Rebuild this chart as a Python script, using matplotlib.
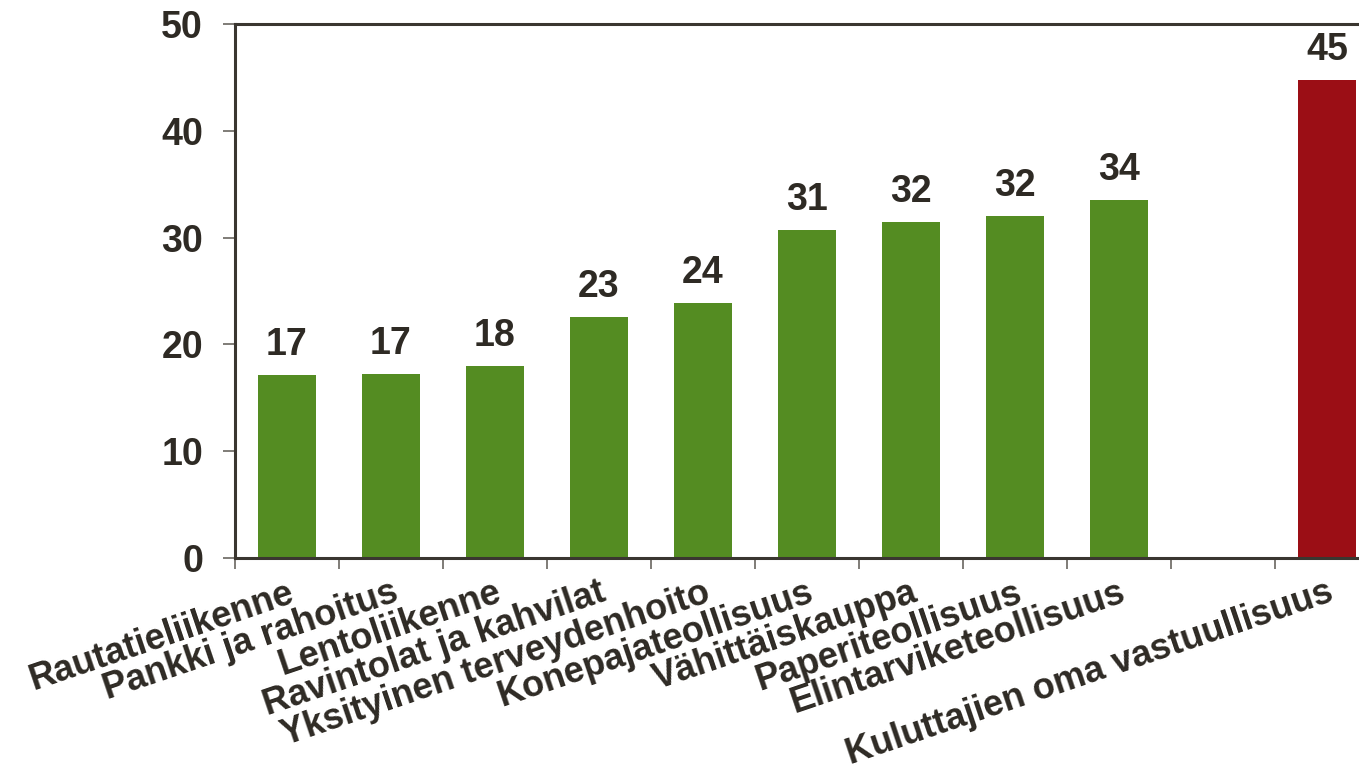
import matplotlib
matplotlib.use("Agg")
import matplotlib.pyplot as plt
import numpy as np

categories = ["Rautatieliikenne", "Pankki ja rahoitus", "Lentoliikenne",
              "Ravintolat ja kahvilat", "Yksityinen terveydenhoito",
              "Konepajateollisuus", "Vähittäiskauppa", "Paperiteollisuus",
              "Elintarviketeollisuus", "", "Kuluttajien oma vastuullisuus"]
values = [17.1, 17.2, 18.0, 22.6, 23.9, 30.7, 31.5, 32.0, 33.5, np.nan, 44.8]
labels = ["17", "17", "18", "23", "24", "31", "32", "32", "34", "", "45"]
colors = ["#548C22"] * 9 + ["#548C22", "#9B0E15"]
yticks = [0, 10, 20, 30, 40, 50]

TXT = "#2E2A24"
AX = "#3A3630"
plt.rcParams['font.family'] = ['Liberation Sans', 'DejaVu Sans']

fig = plt.figure(figsize=(13.59, 7.77), dpi=100)
ax = fig.add_axes([235/1359, (777-558)/777, 1144/1359, 534/777])

x = np.arange(len(categories)) + 0.5
ax.bar(x, values, width=0.56, color=colors, zorder=2)
for xi, v, lab in zip(x, values, labels):
    if lab:
        ax.annotate(lab, (xi, v), xytext=(0, 14.4), textcoords="offset points",
                    ha="center", va="baseline", fontsize=27, fontweight="bold", color=TXT)

ax.set_xlim(0, len(categories))
ax.set_ylim(0, 50)
ax.set_yticks(yticks)
ax.set_yticklabels([str(t) for t in yticks], fontsize=27, fontweight="bold", color=TXT)
ax.tick_params(axis="y", length=9, width=1.2, color="#6A6660", pad=14)

ax.set_xticks(np.arange(len(categories) + 1))
ax.set_xticklabels([])
ax.tick_params(axis="x", length=8, width=1.2, color="#6A6660", direction="out")
for xi, cat in zip(x, categories):
    if cat:
        ax.text(xi + 0.0, -1.6, cat, rotation=18.7, rotation_mode="anchor",
                ha="right", va="top", fontsize=26, fontweight="bold", color=TXT,
                transform=ax.transData, clip_on=False)

for s in ["left", "bottom", "top", "right"]:
    ax.spines[s].set_color(AX)
    ax.spines[s].set_linewidth(2.2)

fig.savefig("out.png", dpi=100)
